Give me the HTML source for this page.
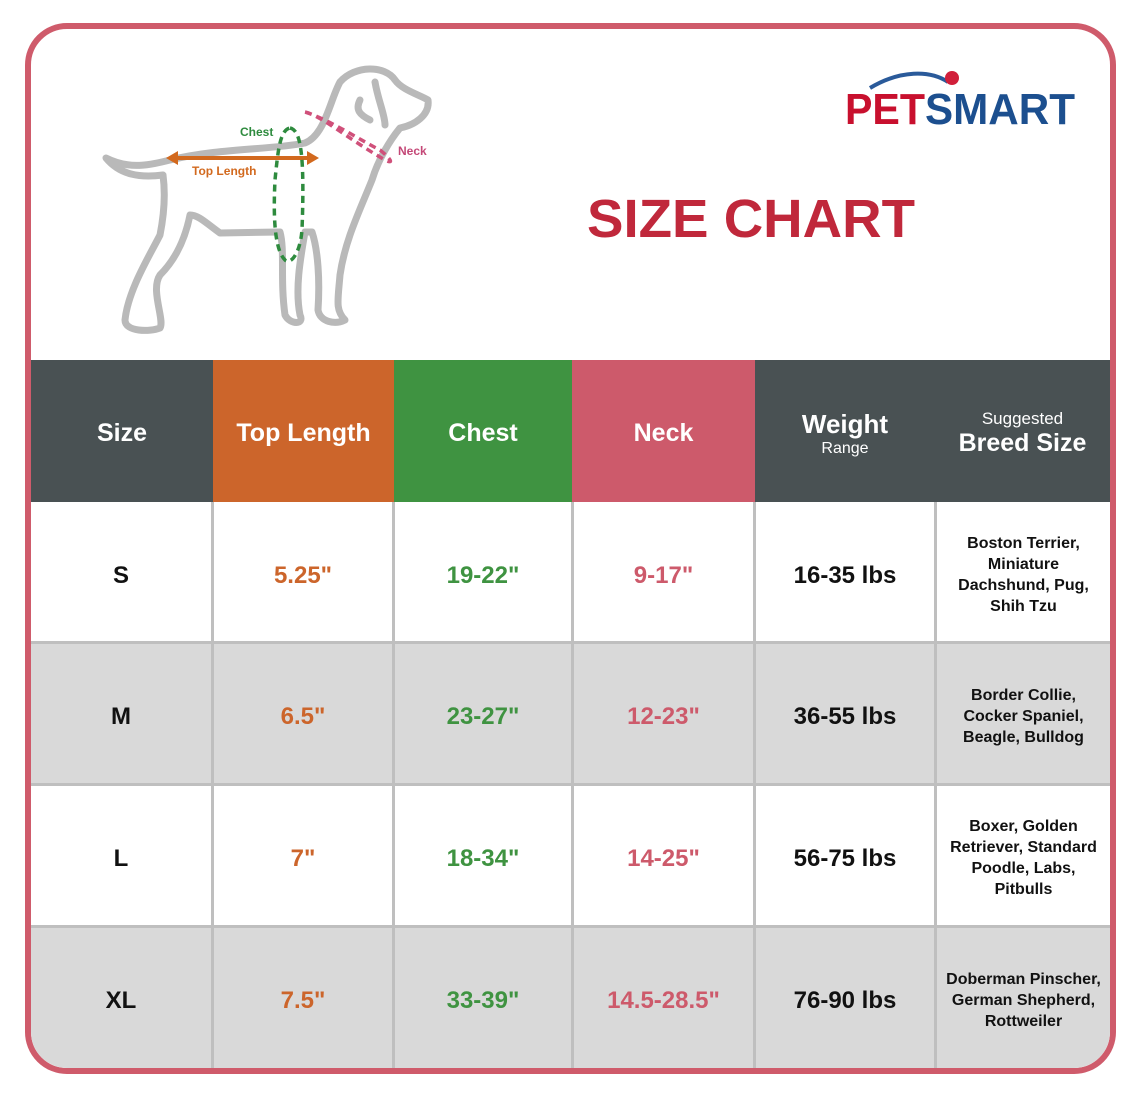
<!DOCTYPE html>
<html><head><meta charset="utf-8"><style>
*{margin:0;padding:0;box-sizing:border-box}
body{width:1138px;height:1096px;background:#fff;position:relative;overflow:hidden;font-family:"Liberation Sans",sans-serif}
.frame{position:absolute;left:25px;top:23px;width:1091px;height:1051px;border:6px solid #cf5b6b;border-radius:42px;overflow:hidden;background:#fff}
.c{position:absolute;display:flex;align-items:center;justify-content:center;text-align:center;font-weight:bold}
.h{color:#fff;font-size:25px;padding-top:4px}
.v{font-size:24px;padding-top:5px}
.b{font-size:16px;line-height:21px;color:#111;padding-top:4px}
.vl{position:absolute;width:3px;background:#bfbfbf}
.hl{position:absolute;height:3px;background:#bfbfbf}
</style></head><body>
<div class="frame">
<svg style="position:absolute;left:0;top:0" width="1079" height="330" viewBox="31 29 1079 330">
 <g fill="none" stroke="#b9b9b9" stroke-width="7" stroke-linecap="round" stroke-linejoin="round">
  <path d="M106,158 C130,170 150,165 170,160 C220,148 270,150 305,143 C325,135 330,100 340,82 C355,65 385,65 395,80 C402,90 420,95 428,100 C430,115 415,125 400,128 C390,140 378,160 372,180 C360,210 345,240 340,275 C338,300 335,310 345,320 C335,325 320,322 318,310 C320,280 318,250 312,232 L305,232 C300,260 295,290 300,315 C305,325 290,325 285,315 C280,280 285,250 280,232 L220,233 C205,222 198,215 190,215 C185,240 175,260 160,275 C150,290 165,320 160,328 C150,332 125,332 125,320 C128,290 150,255 160,235 C165,210 165,190 163,175 C140,178 120,175 106,158 Z"/>
  <path d="M360,100 C355,110 360,115 370,120"/>
  <path d="M375,82 C378,100 385,115 385,125"/>
 </g>
 <path d="M170,158 L315,158" stroke="#d2691e" stroke-width="4"/>
 <path d="M166,158 l12,-7 v14 Z M319,158 l-12,-7 v14 Z" fill="#d2691e"/>
 <path d="M290,128 C300,130 305,150 302,230 C300,255 290,265 285,260 C275,250 273,220 275,180 C278,150 280,130 290,128" fill="none" stroke="#2e8b3e" stroke-width="3.5" stroke-dasharray="7,5"/>
 <path d="M305,112 C320,115 350,140 385,160 C395,165 390,158 380,150 C360,140 330,120 305,112" fill="none" stroke="#d0507a" stroke-width="3.5" stroke-dasharray="7,5"/>
 <text x="240" y="136" font-family="Liberation Sans" font-weight="bold" font-size="12" fill="#2e8b3e">Chest</text>
 <text x="192" y="175" font-family="Liberation Sans" font-weight="bold" font-size="12" fill="#d2691e">Top Length</text>
 <text x="398" y="155" font-family="Liberation Sans" font-weight="bold" font-size="12" fill="#c44877">Neck</text>
 <path d="M870,88 C900,70 930,70 948,82" fill="none" stroke="#2a5a9a" stroke-width="4"/>
 <circle cx="952" cy="78" r="7" fill="#d11f3a"/>
 <text x="845" y="124" font-family="Liberation Sans" font-weight="bold" font-size="44" fill="#c8102e" textLength="80" lengthAdjust="spacingAndGlyphs">PET</text>
 <text x="925" y="124" font-family="Liberation Sans" font-weight="bold" font-size="44" fill="#1c4f8f" textLength="150" lengthAdjust="spacingAndGlyphs">SMART</text>
 <text x="587" y="237" font-family="Liberation Sans" font-weight="bold" font-size="54" fill="#c0283b" textLength="328" lengthAdjust="spacingAndGlyphs">SIZE CHART</text>
</svg>
<div class="c h" style="left:0;top:331px;width:182px;height:142px;background:#495153">Size</div>
<div class="c h" style="left:182px;top:331px;width:181px;height:142px;background:#cc652b">Top Length</div>
<div class="c h" style="left:363px;top:331px;width:178px;height:142px;background:#3f9341">Chest</div>
<div class="c h" style="left:541px;top:331px;width:183px;height:142px;background:#cd5a6b">Neck</div>
<div class="c h" style="left:724px;top:331px;width:180px;height:142px;background:#495153;flex-direction:column"><div style="font-size:26px">Weight</div><div style="font-size:16px;font-weight:normal">Range</div></div>
<div class="c h" style="left:904px;top:331px;width:175px;height:142px;background:#495153;flex-direction:column"><div style="font-size:17px;font-weight:normal">Suggested</div><div style="font-size:25px">Breed Size</div></div>
<div style="position:absolute;left:0;top:614px;width:1079px;height:142px;background:#d9d9d9"></div>
<div style="position:absolute;left:0;top:898px;width:1079px;height:150px;background:#d9d9d9"></div>
<div class="vl" style="left:180px;top:473px;height:580px"></div>
<div class="vl" style="left:361px;top:473px;height:580px"></div>
<div class="vl" style="left:540px;top:473px;height:580px"></div>
<div class="vl" style="left:722px;top:473px;height:580px"></div>
<div class="vl" style="left:903px;top:473px;height:580px"></div>
<div class="hl" style="left:0;top:612px;width:1079px"></div>
<div class="hl" style="left:0;top:754px;width:1079px"></div>
<div class="hl" style="left:0;top:896px;width:1079px"></div>

<div class="c v" style="left:0;top:475px;width:180px;height:138px;color:#111">S</div>
<div class="c v" style="left:183px;top:475px;width:178px;height:138px;color:#cc652b">5.25"</div>
<div class="c v" style="left:364px;top:475px;width:176px;height:138px;color:#3f9341">19-22"</div>
<div class="c v" style="left:543px;top:475px;width:179px;height:138px;color:#cd5a6b">9-17"</div>
<div class="c v" style="left:725px;top:475px;width:178px;height:138px;color:#111">16-35 lbs</div>
<div class="c b" style="left:906px;top:475px;width:173px;height:138px">Boston Terrier,<br>Miniature<br>Dachshund, Pug,<br>Shih Tzu</div>

<div class="c v" style="left:0;top:616px;width:180px;height:138px;color:#111">M</div>
<div class="c v" style="left:183px;top:616px;width:178px;height:138px;color:#cc652b">6.5"</div>
<div class="c v" style="left:364px;top:616px;width:176px;height:138px;color:#3f9341">23-27"</div>
<div class="c v" style="left:543px;top:616px;width:179px;height:138px;color:#cd5a6b">12-23"</div>
<div class="c v" style="left:725px;top:616px;width:178px;height:138px;color:#111">36-55 lbs</div>
<div class="c b" style="left:906px;top:616px;width:173px;height:138px">Border Collie,<br>Cocker Spaniel,<br>Beagle, Bulldog</div>

<div class="c v" style="left:0;top:758px;width:180px;height:138px;color:#111">L</div>
<div class="c v" style="left:183px;top:758px;width:178px;height:138px;color:#cc652b">7"</div>
<div class="c v" style="left:364px;top:758px;width:176px;height:138px;color:#3f9341">18-34"</div>
<div class="c v" style="left:543px;top:758px;width:179px;height:138px;color:#cd5a6b">14-25"</div>
<div class="c v" style="left:725px;top:758px;width:178px;height:138px;color:#111">56-75 lbs</div>
<div class="c b" style="left:906px;top:758px;width:173px;height:138px">Boxer, Golden<br>Retriever, Standard<br>Poodle, Labs,<br>Pitbulls</div>

<div class="c v" style="left:0;top:900px;width:180px;height:138px;color:#111">XL</div>
<div class="c v" style="left:183px;top:900px;width:178px;height:138px;color:#cc652b">7.5"</div>
<div class="c v" style="left:364px;top:900px;width:176px;height:138px;color:#3f9341">33-39"</div>
<div class="c v" style="left:543px;top:900px;width:179px;height:138px;color:#cd5a6b">14.5-28.5"</div>
<div class="c v" style="left:725px;top:900px;width:178px;height:138px;color:#111">76-90 lbs</div>
<div class="c b" style="left:906px;top:900px;width:173px;height:138px">Doberman Pinscher,<br>German Shepherd,<br>Rottweiler</div>
</div>
</body></html>
